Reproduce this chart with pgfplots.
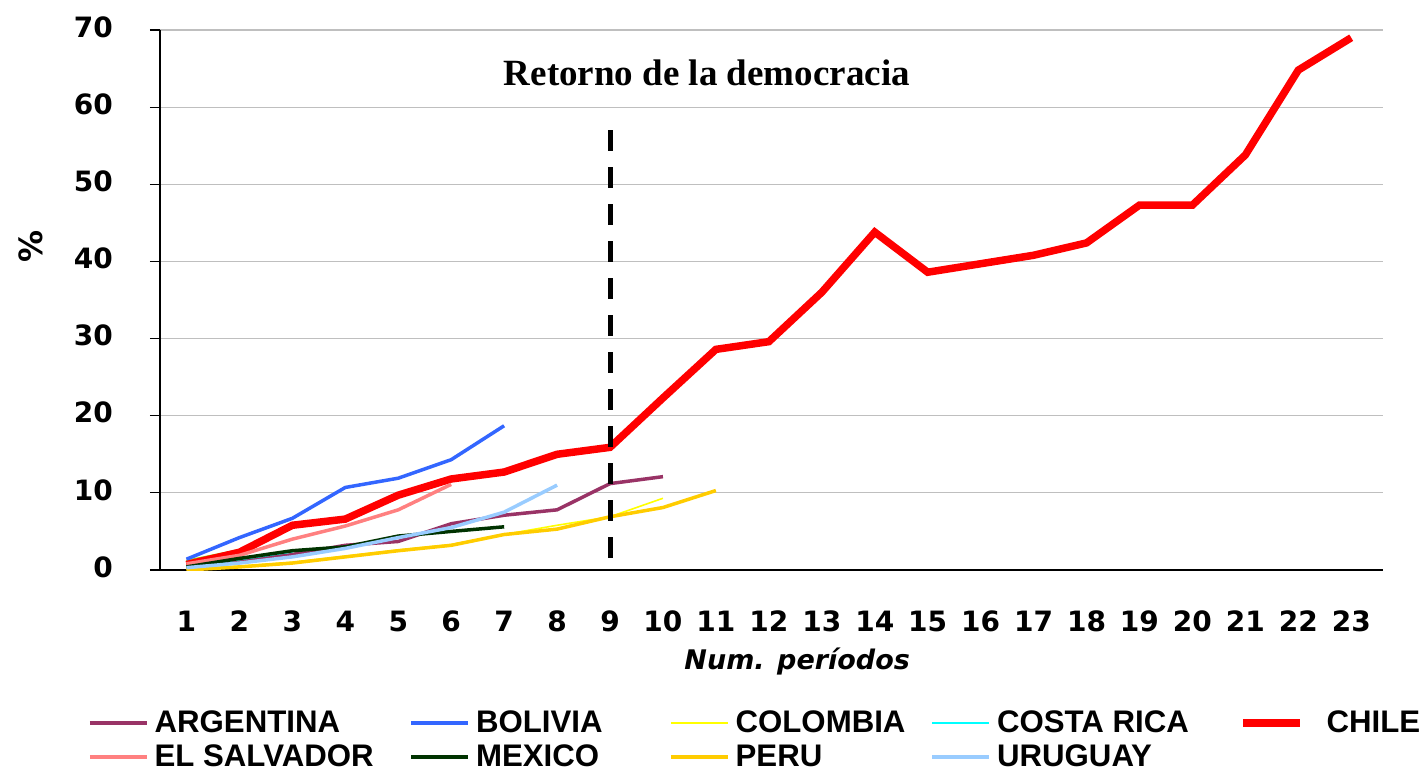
\documentclass[border=0pt]{standalone}
\usepackage{pgfplots}
\pgfplotsset{compat=1.18}
\usepackage{fontspec}
\setmainfont{DejaVu Sans}
\newfontfamily\tickfont{DejaVu Sans}
\newfontfamily\legfont{Liberation Sans}
\newfontfamily\titlefont{Liberation Serif}
\definecolor{argc}{HTML}{993366}
\definecolor{bolc}{HTML}{3366FF}
\definecolor{colc}{HTML}{FFFF00}
\definecolor{crc}{HTML}{00FFFF}
\definecolor{chic}{HTML}{FF0000}
\definecolor{elsc}{HTML}{FF8080}
\definecolor{mexc}{HTML}{003300}
\definecolor{perc}{HTML}{FFCC00}
\definecolor{uruc}{HTML}{99CCFF}
\definecolor{grnc}{HTML}{99CC00}
\begin{document}
\begin{tikzpicture}
\begin{axis}[
  name=ax,
  scale only axis, width=611.5pt, height=270pt,
  xmin=0.5, xmax=23.6, ymin=0, ymax=70,
  axis x line=bottom, axis y line=left,
  axis line style={-, black, line width=0.8pt},
  xtick={1,...,23}, ytick={0,10,...,70},
  ymajorgrids, grid style={color=black!25, line width=0.6pt},
  xtick style={draw=none},
  ytick style={black, line width=0.6pt}, tick align=outside, major tick length=5pt,
  /pgf/number format/assume math mode=true,
  ticklabel style={font=\tickfont\bfseries\fontsize{14}{16}\selectfont},
  yticklabel style={xshift=-15pt, yshift=1.5pt},
  xticklabel style={yshift=-12pt},
  xlabel={Num. períodos},
  xlabel style={font=\tickfont\bfseries\itshape\fontsize{13.5}{16}\selectfont, at={(axis description cs:0.521,-0.17)}, anchor=center},
  ylabel={\%},
  ylabel style={font=\tickfont\bfseries\fontsize{16}{18}\selectfont, at={(axis description cs:-0.106,0.60)}, anchor=center},
  legend columns=5,
  legend style={at={(axis description cs:-0.064,-0.25)}, anchor=north west, draw=none, fill=none,
    font=\legfont\bfseries\fontsize{15.6}{18}\selectfont,
    nodes={inner sep=0pt, text height=11.5pt, text depth=2pt},
    row sep=3.5pt,
    /tikz/every odd column/.append style={column sep=3pt},
    /tikz/every even column/.append style={column sep=0pt}},
  legend image code/.code={\draw[#1] (0pt,0pt) -- (28.5pt,0pt);},
]
\addplot[grnc, line width=1.75pt, forget plot] coordinates {(1,1.1) (2,2.5)};
\addplot[argc, line width=1.75pt] coordinates {(1,0.5) (2,1.2) (3,2.0) (4,3.2) (5,3.7) (6,6.0) (7,7.1) (8,7.8) (9,11.2) (10,12.1)};
\addlegendentry{\makebox[127.5pt][l]{ARGENTINA}}
\addplot[bolc, line width=1.75pt] coordinates {(1,1.4) (2,4.2) (3,6.7) (4,10.7) (5,11.9) (6,14.3) (7,18.7)};
\addlegendentry{\makebox[96.5pt][l]{BOLIVIA}}
\addplot[colc, line width=0.8pt] coordinates {(1,0.1) (2,0.5) (3,1.0) (4,1.8) (5,2.6) (6,3.3) (7,4.6) (8,5.8) (9,6.9) (10,9.3)};
\addlegendentry{\makebox[97.5pt][l]{COLOMBIA}}
\addplot[crc, line width=1.2pt] coordinates {(1,0.4) (2,1.4) (3,2.4)};
\addlegendentry{\makebox[121.2pt][l]{COSTA RICA}}
\addplot[chic, line width=3.75pt] coordinates {(1,0.7) (2,2.3) (3,5.8) (4,6.6) (5,9.7) (6,11.8) (7,12.7) (8,15.0) (9,15.9) (10,22.3) (11,28.6) (12,29.6) (13,36.0) (14,43.8) (15,38.6) (16,39.7) (17,40.8) (18,42.4) (19,47.3) (20,47.3) (21,53.8) (22,64.8) (23,69.0)};
\addlegendentry{\hspace{8.3pt}CHILE}
\addplot[elsc, line width=1.75pt] coordinates {(1,0.8) (2,1.9) (3,4.0) (4,5.7) (5,7.8) (6,11.1)};
\addlegendentry{\makebox[127.5pt][l]{EL SALVADOR}}
\addplot[mexc, line width=1.75pt] coordinates {(1,0.4) (2,1.5) (3,2.5) (4,3.0) (5,4.4) (6,5.0) (7,5.6)};
\addlegendentry{\makebox[96.5pt][l]{MEXICO}}
\addplot[perc, line width=1.75pt] coordinates {(1,0.0) (2,0.4) (3,0.9) (4,1.7) (5,2.5) (6,3.2) (7,4.6) (8,5.3) (9,6.9) (10,8.1) (11,10.3)};
\addlegendentry{\makebox[97.5pt][l]{PERU}}
\addplot[uruc, line width=1.75pt] coordinates {(1,0.3) (2,0.9) (3,1.7) (4,2.8) (5,4.2) (6,5.5) (7,7.5) (8,11.0)};
\addlegendentry{\makebox[121.2pt][l]{URUGUAY}}
\addplot[black, line width=2.5pt, dash pattern=on 10.5pt off 8pt, forget plot] coordinates {(9,57) (9,0)};
\node[font=\titlefont\bfseries\fontsize{18.5}{22}\selectfont] at (axis cs:10.83,64.4) {Retorno de la democracia};
\end{axis}
\pgfresetboundingbox
\path ([xshift=-80pt,yshift=-100.5pt]ax.south west) rectangle ([xshift=20.5pt,yshift=15pt]ax.north east);
\end{tikzpicture}
\end{document}
